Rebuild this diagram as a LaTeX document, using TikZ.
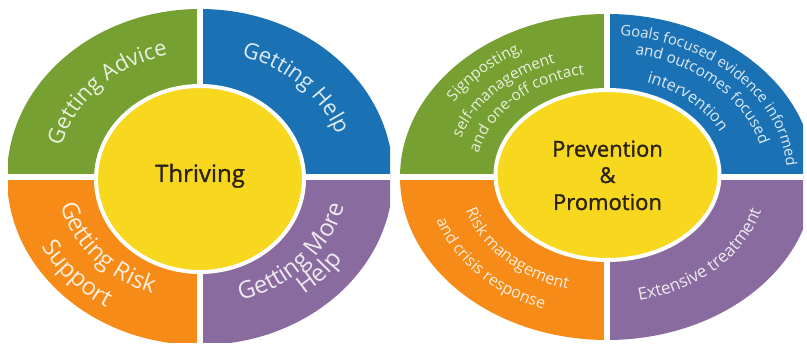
\documentclass[tikz,border=0pt]{standalone}
\usepackage{fontspec}
\setmainfont{Open Sans}
\newfontfamily\hubfont{Open Sans}[FakeBold=1.2]
\usetikzlibrary{decorations.text}

\definecolor{segGreen}{HTML}{77A032}
\definecolor{segBlue}{HTML}{1A72B5}
\definecolor{segOrange}{HTML}{F78B17}
\definecolor{segPurple}{HTML}{8A6B9F}
\definecolor{hubYellow}{HTML}{F8D81E}
\definecolor{hubText}{HTML}{2B2312}
\colorlet{lblGreen}{white!85!segGreen}
\colorlet{lblBlue}{white!85!segBlue}
\colorlet{lblOrange}{white!85!segOrange}
\colorlet{lblPurple}{white!85!segPurple}

\newcommand\fs[1]{\fontsize{#1}{#1}\selectfont}

\tikzset{
  gap/.style={white, line width=6.5pt},
  hub/.style={fill=hubYellow, draw=white, line width=4pt},
  hubtext/.style={text=hubText, inner sep=0pt},
  % text centred along an elliptic arc
  arctext/.style args={#1/#2}{decorate, decoration={text along path,
      text align=center, text color=#1, text={#2}}},
}

% quadrant of a clipped ellipse: start angle, colour, x radius, y radius
\newcommand\quadrant[4]{%
  \fill[#2] (0,0) -- (#1:#3 and #4) arc[start angle=#1, delta angle=90, x radius=#3, y radius=#4] -- cycle;}
% arc path from angle #1 to #2 on an ellipse of radii #3, #4
\newcommand\arcpath[4]{(#1:#3 and #4) arc[start angle=#1, end angle=#2, x radius=#3, y radius=#4]}

\begin{document}
\begin{tikzpicture}[x=1pt, y=1pt]
\useasboundingbox (0,0) rectangle (807,347);

% ---------------- left wheel ----------------
\begin{scope}
  \clip (8,4) rectangle (390,340);
  \begin{scope}[shift={(200,170)}]
    \quadrant{90}{segGreen}{193}{168}
    \quadrant{0}{segBlue}{193}{168}
    \quadrant{180}{segOrange}{193}{168}
    \quadrant{270}{segPurple}{193}{168}
    \draw[gap] (0,-200) -- (0,200);
    \draw[gap] (-200,0) -- (200,0);
  \end{scope}
\end{scope}
\filldraw[hub] (200,168) ellipse[x radius=104, y radius=93];
\node[hubtext, anchor=base, font=\hubfont\fs{24}] (thriving) at (200,165) {Thriving};

\begin{scope}[shift={(200,170)}]
  \path[arctext={lblGreen/|\fs{22}|Getting Advice}]   \arcpath{178.3}{92}{143}{125};
  \path[arctext={lblBlue/|\fs{22}|Getting Help}]      \arcpath{82.6}{8.9}{145}{126};
  \path[arctext={lblPurple/|\fs{24}|Getting More}]    \arcpath{-86.4}{1.4}{147.6}{128.5};
  \path[arctext={lblPurple/|\fs{24}|Help}]            \arcpath{-63.3}{-21.8}{171}{148.7};
  \path[arctext={lblOrange/|\fs{24}|Getting Risk}]    \arcpath{179.9}{262.3}{143}{124};
  \path[arctext={lblOrange/|\fs{24}|Support}]         \arcpath{196.3}{247.6}{177}{154};
\end{scope}

% ---------------- right wheel ----------------
\begin{scope}
  \clip (400,5) rectangle (803,332);
  \begin{scope}[shift={(607,170)}]
    \quadrant{90}{segGreen}{207}{163}
    \quadrant{0}{segBlue}{207}{163}
    \quadrant{180}{segOrange}{207}{163}
    \quadrant{270}{segPurple}{207}{163}
    \draw[gap] (0,-200) -- (0,200);
    \draw[gap] (-220,0) -- (220,0);
  \end{scope}
\end{scope}
\filldraw[hub] (607.5,172) ellipse[x radius=112, y radius=85];
\node[hubtext, anchor=base, font=\hubfont\fs{22}] (prev)  at (607.5,190.3) {Prevention};
\node[hubtext, anchor=base, font=\hubfont\fs{22}] (amp)   at (607.5,164)   {\&};
\node[hubtext, anchor=base, font=\hubfont\fs{22}] (promo) at (607.5,137)   {Promotion};

\begin{scope}[shift={(607,170)}]
  % green quadrant
  \path[arctext={lblGreen/|\fs{15.3}|Signposting,}]        \arcpath{161}{106.8}{180}{141.8};
  \path[arctext={lblGreen/|\fs{15.3}|self-management}]     \arcpath{176.1}{97.7}{154.2}{121.4};
  \path[arctext={lblGreen/|\fs{15.3}|and one-off contact}] \arcpath{184.7}{85.6}{132}{104};
  % blue quadrant
  \path[arctext={lblBlue/|\fs{14.8}|Goals focused evidence informed}] \arcpath{94.5}{-6.8}{180}{141.8};
  \path[arctext={lblBlue/|\fs{15.3}|and outcomes focused}]            \arcpath{89.4}{2.7}{158.1}{124.5};
  \path[arctext={lblBlue/|\fs{16}|intervention}]                      \arcpath{85.6}{9.6}{126.7}{99.8};
  % orange quadrant
  \path[arctext={lblOrange/|\fs{16}|Risk management}]     \arcpath{181.7}{266.7}{147.6}{116.2};
  \path[arctext={lblOrange/|\fs{16}|and crisis response}] \arcpath{187.3}{257.9}{179.5}{141.3};
  % purple quadrant
  \path[arctext={lblPurple/|\fs{17}|Extensive treatment}] \arcpath{-89.7}{-1.5}{160.2}{126.2};
\end{scope}
\end{tikzpicture}
\end{document}
